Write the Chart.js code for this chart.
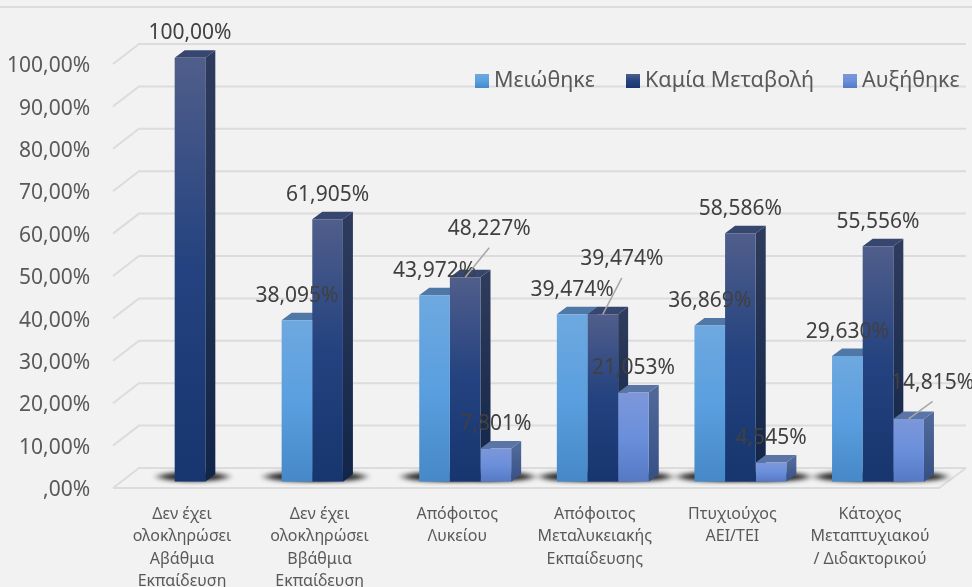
<!DOCTYPE html>
<html lang="el">
<head>
<meta charset="utf-8">
<title>Chart</title>
<style>
  html, body { margin: 0; padding: 0; background: #f2f2f2; overflow: hidden; }
  canvas { display: block; }
</style>
<script src="https://cdn.jsdelivr.net/npm/chart.js@4"></script>
</head>
<body>
<canvas id="miGrafico" width="972" height="587"></canvas>
<script>
let categorias = [
    ['Δεν έχει', 'ολοκληρώσει', 'Αβάθμια', 'Εκπαίδευση'],
    ['Δεν έχει', 'ολοκληρώσει', 'Ββάθμια', 'Εκπαίδευση'],
    ['Απόφοιτος', 'Λυκείου'],
    ['Απόφοιτος', 'Μεταλυκειακής', 'Εκπαίδευσης'],
    ['Πτυχιούχος', 'ΑΕΙ/ΤΕΙ'],
    ['Κάτοχος', 'Μεταπτυχιακού', '/ Διδακτορικού']
];
let seriesNames = ['Μειώθηκε', 'Καμία Μεταβολή', 'Αυξήθηκε'];
let meiothike = [null, 38.095, 43.972, 39.474, 36.869, 29.630];
let kamia = [100, 61.905, 48.227, 39.474, 58.586, 55.556];
let afxithike = [null, null, 7.801, 21.053, 4.545, 14.815];
let yTickLabels = [',00%', '10,00%', '20,00%', '30,00%', '40,00%', '50,00%', '60,00%', '70,00%', '80,00%', '90,00%', '100,00%'];

// front face, side face and top colours per series
let colores = [
    { front: ['#6ea8e0', '#5a9fdf', '#4688c8'], side: ['#4a78a8', '#2f6396'], top: '#4f78a6' },
    { front: ['#505e8b', '#23427f', '#17366f'], side: ['#2e3b5c', '#112548'], top: '#36466f' },
    { front: ['#7d97d9', '#6a8fdb', '#5679c4'], side: ['#4f6899', '#365084'], top: '#5a75a5' }
];

// labels that do not sit straight above their bar: 'serie:categoria' -> dx, dy, with a leader line
let labelsMovidos = {
    '1:2': [24, -48],
    '1:3': [19, -55],
    '2:5': [24, -36]
};

let texto = v => v === 100 ? '100,00%' : v.toFixed(3).replace('.', ',') + '%';

let degradado = (ctx2d, y0, y1, stops) => {
    let g = ctx2d.createLinearGradient(0, y0, 0, y1);
    stops.forEach((c, i) => g.addColorStop(i / (stops.length - 1), c));
    return g;
};

let frente = (serie) => (ctx) => {
    let stops = colores[serie].front;
    if (ctx.raw == null) return stops[1];
    let y = ctx.chart.scales.y;
    let y0 = y.getPixelForValue(ctx.raw), y1 = y.getPixelForValue(0);
    // the scale has no size yet on the first pass
    if (!Number.isFinite(y0) || !Number.isFinite(y1)) return stops[1];
    return degradado(ctx.chart.ctx, y0, y1, stops);
};

let cara = (ctx, puntos, fill) => {
    ctx.fillStyle = fill;
    ctx.beginPath();
    puntos.forEach((p, i) => i ? ctx.lineTo(p[0], p[1]) : ctx.moveTo(p[0], p[1]));
    ctx.closePath();
    ctx.fill();
};

let DX = 10, DY = 7.5;

let paredYBarras = {
    id: 'paredYBarras',
    beforeDatasetsDraw(chart) {
        let { ctx, scales: { y } } = chart;
        ctx.save();
        // back wall gridlines, with the short diagonal on the left
        ctx.strokeStyle = '#dcdcdc';
        ctx.lineWidth = 2;
        y.ticks.forEach((t) => {
            let py = y.getPixelForValue(t.value);
            ctx.beginPath();
            ctx.moveTo(113, py + 6.3);
            ctx.lineTo(139, py - 13.7);
            ctx.lineTo(966, py - 13.7);
            ctx.stroke();
        });
        let suelo = y.getPixelForValue(0);
        ctx.beginPath();
        ctx.moveTo(113, suelo + 6.3);
        ctx.lineTo(939, suelo + 6.3);
        ctx.lineTo(966, suelo - 13.7);
        ctx.stroke();
        // frame line on top
        ctx.beginPath();
        ctx.moveTo(0, 7);
        ctx.lineTo(972, 7);
        ctx.stroke();

        // floor shadows
        ctx.save();
        ctx.filter = 'blur(2px)';
        chart.data.datasets.forEach((ds, s) => {
            chart.getDatasetMeta(s).data.forEach((el, i) => {
                if (ds.data[i] == null) return;
                ctx.save();
                ctx.translate(el.x + 3, el.base - 5);
                ctx.scale(1, 5.5 / 40);
                let g = ctx.createRadialGradient(0, 0, 12, 0, 0, 40);
                g.addColorStop(0, 'rgba(0,0,0,0.9)');
                g.addColorStop(0.6, 'rgba(0,0,0,0.75)');
                g.addColorStop(1, 'rgba(0,0,0,0.05)');
                ctx.fillStyle = g;
                ctx.beginPath();
                ctx.arc(0, 0, 40, 0, Math.PI * 2);
                ctx.fill();
                ctx.restore();
            });
        });
        ctx.restore();

        // side and top of each bar, the front comes from the library on top of these
        chart.data.datasets.forEach((ds, s) => {
            chart.getDatasetMeta(s).data.forEach((el, i) => {
                if (ds.data[i] == null) return;
                let l = el.x - el.width / 2, r = el.x + el.width / 2;
                cara(ctx, [[r, el.y], [r + DX, el.y - DY], [r + DX, el.base - DY], [r, el.base]],
                    degradado(ctx, el.y, el.base, colores[s].side));
                cara(ctx, [[l, el.y], [l + DX, el.y - DY], [r + DX, el.y - DY], [r, el.y]], colores[s].top);
            });
        });
        ctx.restore();
    },
    afterDatasetsDraw(chart) {
        let { ctx } = chart;
        ctx.save();
        ctx.textAlign = 'center';
        ctx.textBaseline = 'middle';
        ctx.font = '21px "Noto Sans"';
        // data labels with leader lines
        chart.data.datasets.forEach((ds, s) => {
            chart.getDatasetMeta(s).data.forEach((el, i) => {
                let v = ds.data[i];
                if (v == null) return;
                let mov = labelsMovidos[s + ':' + i];
                let lx = el.x + (mov ? mov[0] : 0);
                let ly = el.y + (mov ? mov[1] : -24.5);
                if (mov) {
                    ctx.strokeStyle = '#a6a6a6';
                    ctx.lineWidth = 1.5;
                    ctx.beginPath();
                    ctx.moveTo(lx, ly + 18.5);
                    ctx.lineTo(el.x, el.y);
                    ctx.stroke();
                }
                ctx.fillStyle = '#404040';
                ctx.fillText(texto(v), lx, ly);
            });
        });
        // legend
        let xs = [475, 626, 843];
        ctx.textAlign = 'left';
        ctx.font = '21.5px "Noto Sans"';
        seriesNames.forEach((nombre, s) => {
            ctx.fillStyle = degradado(ctx, 74, 88, colores[s].front);
            ctx.fillRect(xs[s], 74, 14, 14);
            ctx.fillStyle = '#595959';
            ctx.fillText(nombre, xs[s] + 19, 81);
        });
        ctx.restore();
    }
};

let ctx = document.getElementById('miGrafico').getContext('2d');
let myChart = new Chart(ctx, {
    type: 'bar',
    plugins: [paredYBarras],
    data: {
        labels: categorias,
        datasets: [
            { label: seriesNames[0], data: meiothike, backgroundColor: frente(0) },
            { label: seriesNames[1], data: kamia, backgroundColor: frente(1) },
            { label: seriesNames[2], data: afxithike, backgroundColor: frente(2) }
        ]
    },
    options: {
        responsive: false,
        animation: false,
        categoryPercentage: 0.668,
        barPercentage: 1,
        layout: { padding: { top: 57.7, right: 25.2, left: 0, bottom: 0 } },
        plugins: { legend: { display: false }, tooltip: { enabled: false } },
        scales: {
            x: {
                grid: { display: false, drawTicks: false },
                border: { display: false },
                afterFit: (scale) => { scale.height = 105.3; },
                ticks: {
                    autoSkip: false,
                    maxRotation: 0,
                    padding: 21,
                    labelOffset: -8,
                    color: '#595959',
                    font: { family: '"Noto Sans"', size: 16, lineHeight: '22.6px' }
                }
            },
            y: {
                min: 0,
                max: 100,
                grid: { display: false, drawTicks: false },
                border: { display: false },
                afterFit: (scale) => { scale.width = 121.2; },
                ticks: {
                    stepSize: 10,
                    padding: 31,
                    labelOffset: 8.5,
                    color: '#595959',
                    font: { family: '"Noto Sans"', size: 21 },
                    callback: (v, i) => yTickLabels[i]
                }
            }
        }
    }
});
</script>
</body>
</html>
